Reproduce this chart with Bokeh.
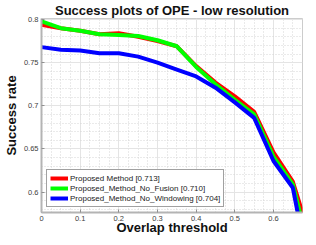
import numpy as np
from bokeh.plotting import figure
from bokeh.models import FixedTicker, Range1d, Legend, LegendItem
from bokeh.embed import file_html
from bokeh.resources import INLINE

# ---- data ----
thresholds = [0, 0.05, 0.1, 0.15, 0.2, 0.25, 0.3, 0.35, 0.4, 0.45, 0.5, 0.55, 0.6, 0.65, 0.7]
proposed = [0.794, 0.790, 0.787, 0.783, 0.784, 0.780, 0.775, 0.769, 0.746, 0.727, 0.711, 0.693, 0.646, 0.612, 0.540]
no_fusion = [0.798, 0.790, 0.787, 0.783, 0.782, 0.781, 0.776, 0.769, 0.745, 0.725, 0.707, 0.690, 0.641, 0.609, 0.520]
no_windowing = [0.768, 0.765, 0.764, 0.761, 0.761, 0.757, 0.750, 0.742, 0.734, 0.721, 0.704, 0.686, 0.636, 0.605, 0.490]
series_names = ["Proposed Method [0.713]", "Proposed_Method_No_Fusion [0.710]", "Proposed_Method_No_Windowing [0.704]"]
series_colors = ["#ff0000", "#00ff00", "#0000ff"]

x_ticks = [0, 0.1, 0.2, 0.3, 0.4, 0.5, 0.6]
x_labels = ["0", "0.1", "0.2", "0.3", "0.4", "0.5", "0.6"]
y_ticks = [0.6, 0.65, 0.7, 0.75, 0.8]
y_labels = ["0.6", "0.65", "0.7", "0.75", "0.8"]

FONT = "Liberation Sans"

p = figure(width=308, height=237, output_backend="svg", toolbar_location=None,
           x_range=Range1d(0, 0.675), y_range=Range1d(0.5763, 0.8012),
           title="Success plots of OPE - low resolution",
           min_border_left=0, min_border_right=6, min_border_top=0, min_border_bottom=0)

p.title.text_font = FONT
p.title.text_font_size = "13px"
p.title.text_font_style = "bold"
p.title.text_color = "#111111"
p.title.align = "center"
p.title.standoff = 1

p.outline_line_color = "#cccccc"
p.outline_line_width = 1
p.background_fill_color = "white"
p.border_fill_color = "white"

x_minor = [round(v, 4) for v in np.arange(0, 0.7, 0.025)]
y_minor = [round(v, 4) for v in np.arange(0.57, 0.81, 0.01)]
p.xaxis.ticker = FixedTicker(ticks=x_ticks, minor_ticks=x_minor)
p.yaxis.ticker = FixedTicker(ticks=y_ticks, minor_ticks=y_minor)
p.xaxis.major_label_overrides = {t: l for t, l in zip(x_ticks, x_labels)}
p.yaxis.major_label_overrides = {t: l for t, l in zip(y_ticks, y_labels)}

for ax in (p.xaxis, p.yaxis):
    ax.axis_line_color = "#b4b4b4"
    ax.axis_line_width = 2
    ax.major_tick_line_color = "#909090"
    ax.major_tick_in = 3
    ax.major_tick_out = 0
    ax.minor_tick_in = 0
    ax.minor_tick_out = 0
    ax.major_label_text_font = FONT
    ax.major_label_text_font_size = "7.5px"
    ax.major_label_text_color = "#404040"
    ax.axis_label_text_font = FONT
    ax.axis_label_text_font_size = "13px"
    ax.axis_label_text_font_style = "bold"
    ax.axis_label_text_color = "#111111"

p.xaxis.axis_label = "Overlap threshold"
p.yaxis.axis_label = "Success rate"
p.xaxis.major_label_standoff = 3
p.yaxis.major_label_standoff = 3
p.xaxis.axis_label_standoff = -4
p.yaxis.axis_label_standoff = 2
p.xaxis.axis_label_text_line_height = 1.0

for g in (p.xgrid, p.ygrid):
    g.grid_line_color = "#e4e4e4"
    g.grid_line_width = 1
    g.minor_grid_line_color = "#d4d4d4"
    g.minor_grid_line_dash = "1 2"
    g.minor_grid_line_width = 1

items = []
for vals, name, col in zip([proposed, no_fusion, no_windowing], series_names, series_colors):
    r = p.line(thresholds, vals, line_color=col, line_width=4)
    items.append(LegendItem(label=name, renderers=[r]))

legend = Legend(items=items, location=(5, 5), margin=0, padding=3, spacing=0,
                label_height=10, glyph_height=10, glyph_width=18, label_standoff=2,
                label_text_font=FONT, label_text_font_size="8px", label_text_color="#222222",
                border_line_color="#444444", border_line_width=1,
                background_fill_color="white", background_fill_alpha=1)
p.add_layout(legend)

open("out.html", "w").write(file_html(p, INLINE))
